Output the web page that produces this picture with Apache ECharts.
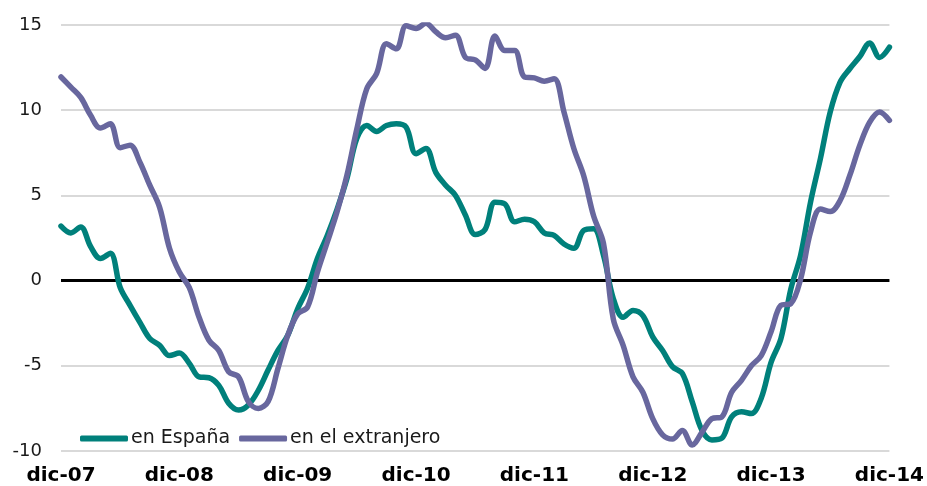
<!DOCTYPE html>
<html>
<head>
<meta charset="utf-8">
<script src="https://cdn.jsdelivr.net/npm/echarts@6/dist/echarts.min.js"></script>
<style>
html,body{margin:0;padding:0;background:#fff;}
#c{width:927px;height:486px;}
</style>
</head>
<body>
<div id="c"></div>
<script>
const monthNames = ["dic","ene","feb","mar","abr","may","jun","jul","ago","sep","oct","nov"];
const years = ["07","08","09","10","11","12","13","14"];
const categories = [];
for (let y = 0; y < years.length; y++) {
  for (let m = 0; m < 12; m++) {
    if (y === years.length - 1 && m > 0) break;
    const yr = m === 0 ? years[y] : years[y + 1];
    categories.push(monthNames[m] + "-" + yr);
  }
}

const seriesNames = ["en España", "en el extranjero"];

const espana = [
  3.2, 2.8, 3.15, 2.0, 1.3, 1.6, -0.4, -1.45, -2.45, -3.4, -3.8, -4.4,
  -4.25, -4.85, -5.65, -5.7, -6.15, -7.2, -7.6, -7.3, -6.45, -5.25,
  -4.1, -3.2, -1.65, -0.45, 1.3, 2.65, 4.2, 6.0, 8.35, 9.1, 8.75, 9.1, 9.2, 9.0,
  7.45, 7.75, 6.35, 5.6, 5.0, 3.85, 2.7, 3.0, 4.6, 4.5, 3.45, 3.6,
  3.45, 2.8, 2.65, 2.15, 1.9, 2.95, 3.05, 1.5, -1.05, -2.15, -1.75, -2.05,
  -3.3, -4.1, -5.05, -5.45, -7.1, -8.8, -9.35, -9.25, -8.0, -7.7, -7.8, -6.9,
  -4.8, -3.4, -0.5, 1.5, 4.6, 7.15, 9.9, 11.65, 12.45, 13.15, 13.95, 13.1,
  13.7
];

const extranjero = [
  11.95, 11.35, 10.75, 9.7, 8.95, 9.2, 7.8, 7.95, 6.95, 5.6, 4.3, 1.9,
  0.5, -0.4, -2.15, -3.5, -4.1, -5.35, -5.65, -7.1, -7.5, -7.1,
  -5.15, -3.2, -1.95, -1.55, 0.5, 2.25, 4.05, 6.2, 8.9, 11.25, 12.15, 13.9, 13.6, 14.95,
  14.8, 15.1, 14.6, 14.25, 14.4, 13.1, 12.95, 12.45, 14.35, 13.5, 13.5, 11.95,
  11.9, 11.7, 11.85, 9.9, 7.75, 6.15, 3.8, 2.2, -2.25, -3.8, -5.65, -6.55,
  -8.1, -9.05, -9.3, -8.8, -9.65, -8.9, -8.1, -8.0, -6.55, -5.85, -5.0, -4.4,
  -3.0, -1.45, -1.35, 0.1, 2.85, 4.2, 4.05, 4.7, 6.2, 7.95, 9.3, 9.9,
  9.4
];

const yTicks = { min: -10, max: 15, interval: 5 };

const colors = ["#00807B", "#68679E"];
const FONT = "DejaVu Sans";

const chart = echarts.init(document.getElementById("c"), null, { renderer: "canvas" });

chart.setOption({
  animation: false,
  backgroundColor: "#ffffff",
  color: colors,
  grid: { left: 61, right: 36, top: 25, bottom: 35, containLabel: false },
  legend: {
    left: 80,
    top: 429,
    padding: 0,
    itemWidth: 48,
    itemHeight: 6,
    itemGap: 9,
    icon: "roundRect",
    textStyle: { fontFamily: FONT, fontSize: 19, color: "#1a1a1a", padding: [0, 0, 0, -2] },
    data: seriesNames
  },
  xAxis: {
    type: "category",
    data: categories,
    boundaryGap: false,
    axisLine: { show: false },
    axisTick: { show: false },
    splitLine: { show: false },
    axisLabel: {
      interval: 11,
      margin: 15,
      fontFamily: FONT,
      fontSize: 20,
      fontWeight: "bold",
      color: "#000"
    }
  },
  yAxis: {
    type: "value",
    min: yTicks.min,
    max: yTicks.max,
    interval: yTicks.interval,
    axisLine: { show: false },
    axisTick: { show: false },
    axisLabel: { margin: 19, fontFamily: FONT, fontSize: 18, color: "#1a1a1a" },
    splitLine: { lineStyle: { color: "#d9d9d9", width: 2 } }
  },
  series: [
    {
      name: seriesNames[0],
      type: "line",
      data: espana,
      smooth: 0.35,
      showSymbol: false,
      symbol: "none",
      lineStyle: { width: 5.5, color: colors[0], cap: "round", join: "round" },
      markLine: {
        silent: true,
        symbol: "none",
        label: { show: false },
        lineStyle: { color: "#000", width: 3, type: "solid" },
        data: [{ yAxis: 0 }],
        z: 1
      }
    },
    {
      name: seriesNames[1],
      type: "line",
      data: extranjero,
      smooth: 0.35,
      showSymbol: false,
      symbol: "none",
      lineStyle: { width: 5.5, color: colors[1], cap: "round", join: "round" }
    }
  ]
});
</script>
</body>
</html>
